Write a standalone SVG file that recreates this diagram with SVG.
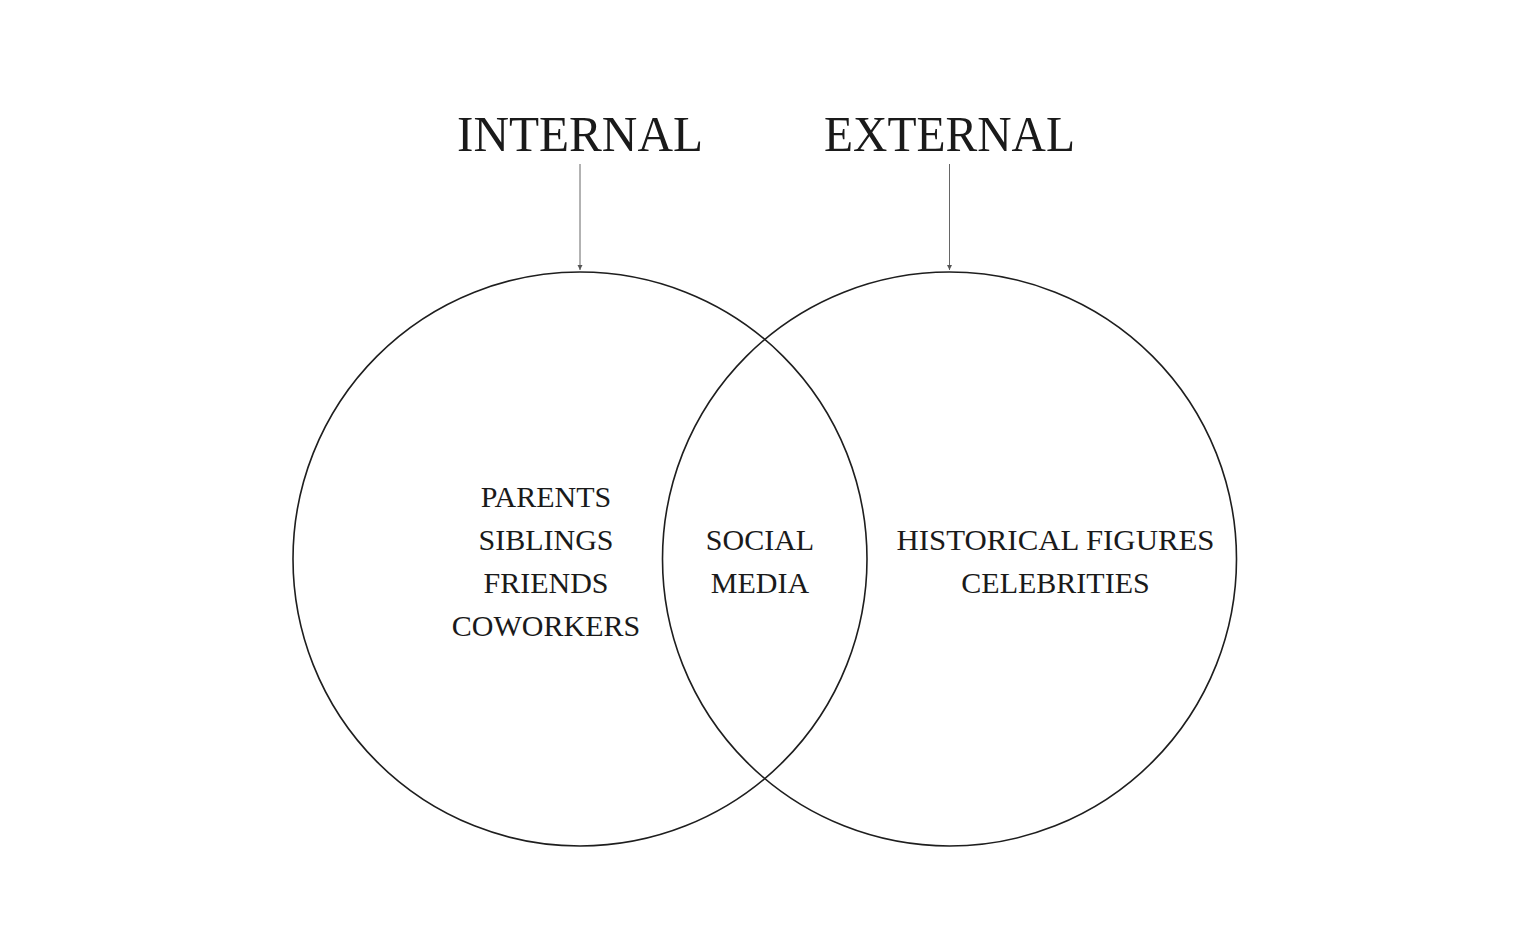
<svg xmlns="http://www.w3.org/2000/svg" width="1530" height="947" viewBox="0 0 1530 947">
<style>
.circle{fill:none;stroke:#1e1e1e;stroke-width:1.6}
.title{font-family:"Liberation Serif",serif;font-size:50px;fill:#1a1a1a;text-anchor:middle}
.label{font-family:"Liberation Serif",serif;font-size:30px;fill:#1a1a1a;text-anchor:middle}
.conn{stroke:#666;stroke-width:1;fill:none}
</style>
<defs>
<marker id="ah" markerWidth="6" markerHeight="6" refX="5" refY="3" orient="auto" markerUnits="userSpaceOnUse">
<path d="M0,0.5 L5,3 L0,5.5 Z" fill="#555"/>
</marker>
</defs>
<rect width="1530" height="947" fill="#fff"/>
<g id="internal">
<circle class="circle" cx="580" cy="559" r="287"/>
<text class="title" x="580" y="151" textLength="246" lengthAdjust="spacingAndGlyphs">INTERNAL</text>
<text class="label" x="546" y="507">PARENTS</text>
<text class="label" x="546" y="550">SIBLINGS</text>
<text class="label" x="546" y="593">FRIENDS</text>
<text class="label" x="546" y="636">COWORKERS</text>
</g>
<g id="external">
<circle class="circle" cx="949.5" cy="559" r="287"/>
<text class="title" x="949.5" y="151" textLength="251" lengthAdjust="spacingAndGlyphs">EXTERNAL</text>
<text class="label" x="1055.5" y="550" textLength="318" lengthAdjust="spacingAndGlyphs">HISTORICAL FIGURES</text>
<text class="label" x="1055.5" y="593">CELEBRITIES</text>
</g>
<g id="overlap">
<text class="label" x="760" y="550">SOCIAL</text>
<text class="label" x="760" y="593">MEDIA</text>
</g>
<g id="connectors">
<line class="conn" x1="580" y1="164" x2="580" y2="270" marker-end="url(#ah)"/>
<line class="conn" x1="949.5" y1="164" x2="949.5" y2="270" marker-end="url(#ah)"/>
</g>
</svg>
